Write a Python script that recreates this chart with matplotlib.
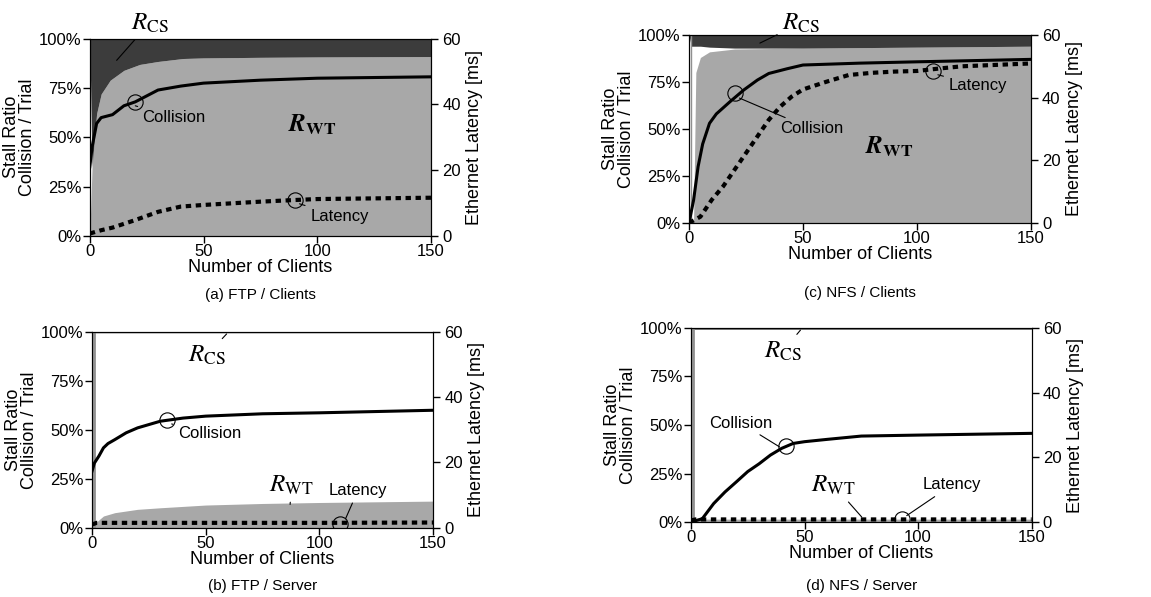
import numpy as np
import matplotlib.pyplot as plt
from matplotlib.ticker import FuncFormatter

plt.rcParams['font.family'] = ['Liberation Sans', 'DejaVu Sans']
plt.rcParams['mathtext.fontset'] = 'stix'

# (a) FTP / Clients
a_x = [0, 1, 3, 5, 9, 15, 22, 30, 41, 50, 75, 100, 150]
a_rwt = [0, 35, 62, 72, 79, 84, 87, 88.5, 90, 90.3, 90.6, 90.8, 91]
a_rcs = [0, 65, 38, 28, 21, 16, 13, 11.5, 10, 9.7, 9.4, 9.2, 9]
a_col_x = [0, 1, 3, 5, 10, 15, 20, 30, 40, 50, 75, 100, 150]
a_col = [35, 45, 57, 60, 61.5, 66, 68, 74, 76, 77.5, 79, 80, 80.7]
a_lat_x = [0, 5, 10, 20, 30, 40, 50, 75, 90, 100, 150]
a_lat = [0.7, 1.7, 2.5, 4.8, 7.3, 8.9, 9.4, 10.4, 10.9, 11.2, 11.6]

# (b) FTP / Server
b_x = [0, 1, 5, 10, 20, 30, 50, 75, 100, 150]
b_rwt = [0, 2, 6, 7.7, 9.4, 10.2, 11.6, 12.4, 12.9, 13.6]
b_rcs = [0, 0.4, 0.4, 0.4, 0.4, 0.4, 0.4, 0.4, 0.4, 0.4]
b_col_x = [0, 1, 3, 5, 7, 10, 15, 20, 30, 40, 50, 75, 100, 150]
b_col = [29, 33, 36.6, 40.8, 43, 45, 48.5, 51, 54.4, 56, 57, 58.2, 58.7, 60]
b_lat_x = [0, 2, 10, 50, 100, 150]
b_lat = [1.0, 1.5, 1.5, 1.5, 1.5, 1.6]

# (c) NFS / Clients
c_x = [0, 1, 2, 3, 5, 9, 20, 50, 100, 150]
c_rwt = [0, 0, 0, 80, 88, 91, 92.5, 93, 93.5, 94]
c_rcs = [0, 6, 6, 6, 6, 6.5, 7, 7, 6.5, 6]
c_col_x = [0, 2, 4, 6, 9, 12, 18, 24, 30, 35, 43, 50, 75, 100, 150]
c_col = [0, 12, 30, 42, 53, 58, 64.5, 70.7, 76, 79.5, 82, 84, 85, 85.7, 87]
c_lat_x = [0, 5, 10, 15, 20, 25, 30, 35, 40, 45, 50, 60, 70, 80, 90, 100, 110, 120, 150]
c_lat = [0, 2, 7.4, 11.7, 17, 22.3, 27.6, 32.9, 37.1, 40.3, 42.6, 45, 47.2, 47.9, 48.3, 48.5, 49.3, 50, 50.9]

# (d) NFS / Server
d_x = [0, 1, 150]
d_rwt = [0, 1.5, 1.5]
d_rcs = [0, 0.6, 0.6]
d_col_x = [0, 5, 10, 15, 20, 25, 30, 35, 40, 45, 50, 60, 75, 100, 150]
d_col = [0, 1.7, 9.5, 15.5, 20.7, 26, 30, 34.5, 38, 40.5, 41.4, 42.6, 44.3, 44.8, 45.7]
d_lat_x = [0, 2, 150]
d_lat = [0.5, 0.8, 0.8]

panels = [
    ('(a) FTP / Clients', [0.078, 0.605, 0.2965, 0.33], 0.506, a_x, a_rwt, a_rcs, a_col_x, a_col, a_lat_x, a_lat),
    ('(b) FTP / Server', [0.080, 0.116, 0.2963, 0.328], 0.018, b_x, b_rwt, b_rcs, b_col_x, b_col, b_lat_x, b_lat),
    ('(c) NFS / Clients', [0.5986, 0.6265, 0.2971, 0.315], 0.509, c_x, c_rwt, c_rcs, c_col_x, c_col, c_lat_x, c_lat),
    ('(d) NFS / Server', [0.6003, 0.1256, 0.296, 0.325], 0.018, d_x, d_rwt, d_rcs, d_col_x, d_col, d_lat_x, d_lat),
]

fig = plt.figure(figsize=(11.51, 5.97), dpi=100)
axes = []
for title, rect, ty, x, rwt, rcs, cx, col, lx, lat in panels:
    ax = fig.add_axes(rect)
    x = np.array(x)
    ax.fill_between(x, 0, rwt, color='#a8a8a8', lw=0, zorder=1)
    ax.fill_between(x, 100 - np.array(rcs), 100, color='#3c3c3c', lw=0, zorder=1)
    ax.plot(cx, col, color='black', lw=2.2, zorder=3)
    ax.set_xlim(0, 150)
    ax.set_ylim(0, 100)
    ax.set_xticks([0, 50, 100, 150])
    ax.set_yticks([0, 25, 50, 75, 100])
    ax.yaxis.set_major_formatter(FuncFormatter(lambda v, p: f'{v:.0f}%'))
    ax.tick_params(labelsize=12, length=5, width=1, pad=1)
    ax.set_xlabel('Number of Clients', fontsize=13, labelpad=0)
    ax.set_ylabel('Stall Ratio\nCollision / Trial', fontsize=13, labelpad=2, linespacing=0.95)
    ax2 = ax.twinx()
    ax2.plot(lx, lat, color='black', lw=3, ls=(0, (1.3, 1.1)))
    ax2.set_ylim(0, 60)
    ax2.set_yticks([0, 20, 40, 60])
    ax2.tick_params(labelsize=12, length=5, width=1, pad=3)
    ax2.set_ylabel('Ethernet Latency [ms]', fontsize=13, labelpad=4)
    for a in (ax, ax2):
        for s in a.spines.values():
            s.set_linewidth(0.8)
    fig.text(rect[0] + rect[2] / 2, ty, title, ha='center', va='center', fontsize=11)
    axes.append((ax, ax2))

# thin gray strip along the left edge
for i in (1, 3):
    axes[i][0].axvline(0.8, color='#909090', lw=2, zorder=2)
axes[2][0].axvline(0.8, color='#909090', lw=1, zorder=2)

circ = dict(marker='o', ms=11, mfc='none', mec='black', mew=0.8)
lab = dict(fontsize=12)
rfont = dict(fontsize=18)

# (a)
ax, ax2 = axes[0]
ax.plot(20, 68, **circ)
ax.annotate('Collision', xy=(20, 66), xytext=(23, 60), ha='left', va='center', **lab,
            arrowprops=dict(arrowstyle='-', lw=0.8, color='black'))
ax2.plot(90, 11, **circ)
ax2.annotate('Latency', xy=(91, 10), xytext=(97, 6), ha='left', va='center', **lab,
             arrowprops=dict(arrowstyle='-', lw=0.8, color='black'))
ax.annotate(r'$R_{\mathrm{CS}}$', xy=(11, 88), xytext=(18, 102), ha='left', va='bottom', **rfont,
            annotation_clip=False, arrowprops=dict(arrowstyle='-', lw=0.8, color='black'))
ax.text(87, 53, r'$\boldsymbol{R}_{\mathbf{WT}}$', **rfont)

# (b)
ax, ax2 = axes[1]
ax.plot(33, 55, **circ)
ax.annotate('Collision', xy=(35, 53), xytext=(38, 48), ha='left', va='center', **lab,
            arrowprops=dict(arrowstyle='-', lw=0.8, color='black'))
ax.annotate(r'$R_{\mathrm{CS}}$', xy=(60, 100), xytext=(42, 88), ha='left', va='center', **rfont,
            arrowprops=dict(arrowstyle='-', lw=0.8, color='black'))
ax.annotate(r'$R_{\mathrm{WT}}$', xy=(87, 10.5), xytext=(78, 22), ha='left', va='center', **rfont,
            arrowprops=dict(arrowstyle='-', lw=0.8, color='black'))
ax2.plot(109, 1.2, **circ)
ax2.annotate('Latency', xy=(111, 2), xytext=(117, 11.5), ha='center', va='center', **lab,
             arrowprops=dict(arrowstyle='-', lw=0.8, color='black'))

# (c)
ax, ax2 = axes[2]
ax.plot(20, 69, **circ)
ax.annotate('Collision', xy=(21, 67), xytext=(40, 50), ha='left', va='center', **lab,
            arrowprops=dict(arrowstyle='-', lw=0.8, color='black'))
ax2.plot(107, 48.5, **circ)
ax2.annotate('Latency', xy=(108, 47.5), xytext=(114, 44), ha='left', va='center', **lab,
             arrowprops=dict(arrowstyle='-', lw=0.8, color='black'))
ax.annotate(r'$R_{\mathrm{CS}}$', xy=(30, 95), xytext=(41, 100), ha='left', va='bottom', **rfont,
            annotation_clip=False, arrowprops=dict(arrowstyle='-', lw=0.8, color='black'))
ax.text(77, 37, r'$\boldsymbol{R}_{\mathbf{WT}}$', **rfont)

# (d)
ax, ax2 = axes[3]
ax.plot(42, 39, **circ)
ax.annotate('Collision', xy=(40, 38), xytext=(22, 51), ha='center', va='center', **lab,
            arrowprops=dict(arrowstyle='-', lw=0.8, color='black'))
ax.annotate(r'$R_{\mathrm{CS}}$', xy=(49, 100), xytext=(32, 88), ha='left', va='center', **rfont,
            arrowprops=dict(arrowstyle='-', lw=0.8, color='black'))
ax.annotate(r'$R_{\mathrm{WT}}$', xy=(76, 1.5), xytext=(53, 19), ha='left', va='center', **rfont,
            arrowprops=dict(arrowstyle='-', lw=0.8, color='black'))
ax2.plot(93, 0.8, **circ)
ax2.annotate('Latency', xy=(94, 1.5), xytext=(115, 11.5), ha='center', va='center', **lab,
             arrowprops=dict(arrowstyle='-', lw=0.8, color='black'))

fig.savefig('out.png', dpi=100)
